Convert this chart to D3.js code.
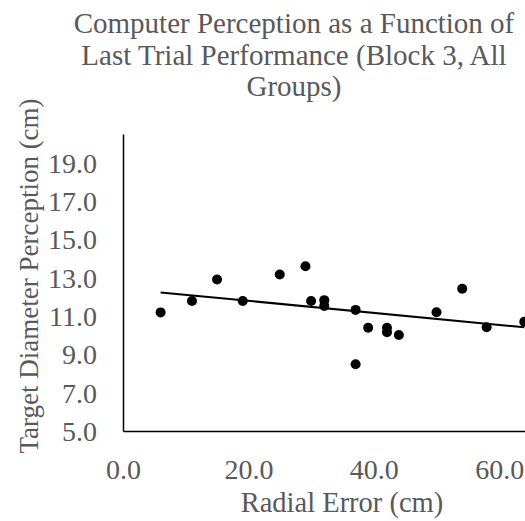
<!DOCTYPE html>
<html lang="en">
<head>
	<meta charset="UTF-8">
	<title>Computer Perception</title>
	<style>
		body { margin: 0; background: #fff; }
		text, tspan { font-family: "Liberation Serif", "Times New Roman", serif; fill: #595959; }
	</style>
</head>
<body>
<script src="https://cdn.jsdelivr.net/npm/d3@7/dist/d3.min.js"></script>
<script>
	// data
	var radialError = [6.0, 11.0, 15.0, 19.1, 25.0, 29.1, 30.0, 32.1, 32.1, 37.1, 39.1, 42.1, 42.1, 44.0, 37.1, 50.0, 54.1, 58.0, 64.0];
	var perception  = [11.19, 11.78, 12.91, 11.78, 13.17, 13.60, 11.78, 11.83, 11.53, 11.32, 10.39, 10.39, 10.15, 10.01, 8.48, 11.20, 12.42, 10.41, 10.70];
	var xTicks = [0, 20, 40, 60];
	var yTicks = [5, 7, 9, 11, 13, 15, 17, 19];
	var titleLines = ["Computer Perception as a Function of", "Last Trial Performance (Block 3, All", "Groups)"];

	var width = 525;
	var height = 521;
	var serif = '"Liberation Serif", "Times New Roman", serif';
	var svg = d3.select('body')
			.append('svg')
			.attr('width', width)
			.attr('height', height);

	var plot = {left: 123, top: 134, bottom: 431};

	var xScale = d3.scaleLinear()
			.domain([0, 70])
			.range([plot.left, plot.left + 70 * 6.27]);
	var yScale = d3.scaleLinear()
			.domain([5, 20.5])
			.range([plot.bottom, plot.top]);

	// title
	svg.append('text')
		.attr('text-anchor', 'middle')
		.attr('font-family', serif)
		.attr('font-size', '29px')
		.selectAll('tspan')
		.data(titleLines)
		.enter()
		.append('tspan')
		.attr('font-family', serif)
		.attr('x', 294)
		.attr('y', function(d, i) { return 33 + i * 31.5; })
		.text(function(d) { return d; });

	// axes
	var xAxis = d3.axisBottom(xScale).tickValues(xTicks).tickSize(0).tickPadding(28).tickFormat(d3.format('.1f'));
	var yAxis = d3.axisLeft(yScale).tickValues(yTicks).tickSize(0).tickPadding(26).tickFormat(d3.format('.1f'));

	var gx = svg.append('g')
		.attr('transform', 'translate(0,' + plot.bottom + ')')
		.call(xAxis);
	var gy = svg.append('g')
		.attr('transform', 'translate(' + plot.left + ',0)')
		.call(yAxis);

	gx.select('.domain').attr('stroke', '#000').attr('stroke-width', 1.5);
	gy.select('.domain').attr('stroke', '#000').attr('stroke-width', 1.5);
	svg.selectAll('.tick text')
		.attr('font-family', serif)
		.attr('font-size', '28px')
		.attr('fill', '#595959');
	gy.selectAll('.tick text').attr('dy', '0.34em');

	// axis titles
	svg.append('text')
		.attr('text-anchor', 'middle')
		.attr('font-family', serif)
		.attr('font-size', '28.5px')
		.attr('x', 342)
		.attr('y', 512)
		.text('Radial Error (cm)');
	svg.append('text')
		.attr('text-anchor', 'middle')
		.attr('font-family', serif)
		.attr('font-size', '27px')
		.attr('transform', 'translate(38,276) rotate(-90)')
		.text('Target Diameter Perception (cm)');

	// linear trendline (least squares)
	var mx = d3.mean(radialError), my = d3.mean(perception);
	var sxy = d3.sum(radialError, function(x, i) { return (x - mx) * (perception[i] - my); });
	var sxx = d3.sum(radialError, function(x) { return (x - mx) * (x - mx); });
	var slope = sxy / sxx;
	var intercept = my - slope * mx;
	var x0 = d3.min(radialError), x1 = d3.max(radialError);

	svg.append('line')
		.attr('x1', xScale(x0))
		.attr('y1', yScale(intercept + slope * x0))
		.attr('x2', xScale(x1))
		.attr('y2', yScale(intercept + slope * x1))
		.attr('stroke', '#000')
		.attr('stroke-width', 2);

	// points
	svg.selectAll('.dot')
		.data(radialError)
		.enter()
		.append('circle')
		.attr('class', 'dot')
		.attr('cx', function(d) { return xScale(d); })
		.attr('cy', function(d, i) { return yScale(perception[i]); })
		.attr('r', 5)
		.attr('fill', '#000');
</script>
</body>
</html>
